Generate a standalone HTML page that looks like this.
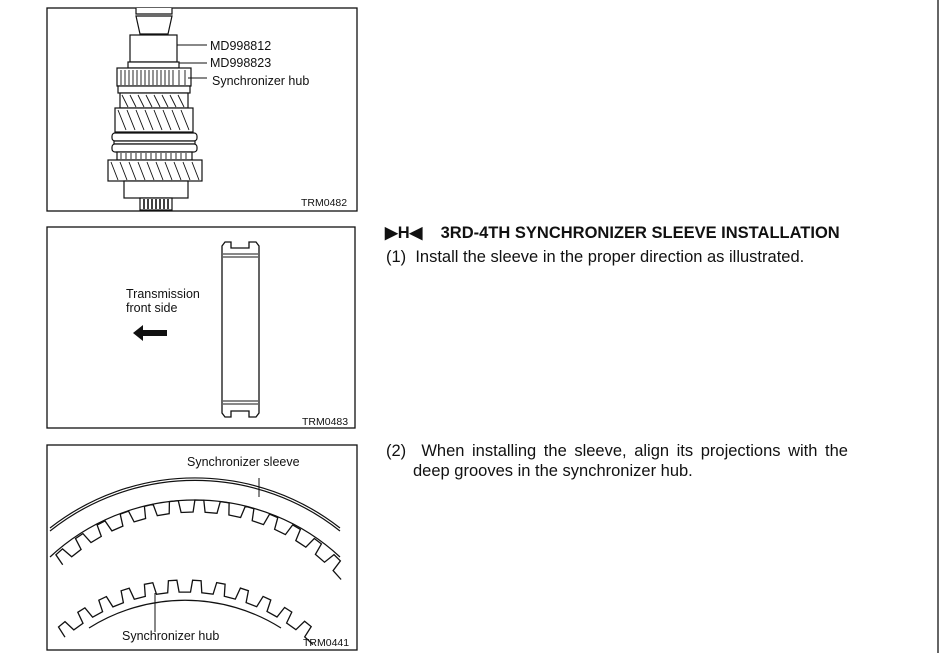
<!DOCTYPE html>
<html><head><meta charset="utf-8"><style>
html,body{margin:0;padding:0;background:#fff;}
body{width:939px;height:653px;position:relative;overflow:hidden;font-family:"Liberation Sans",Arial,sans-serif;}
.t{position:absolute;color:#111;white-space:nowrap;}
</style></head><body>
<svg width="939" height="653" style="position:absolute;left:0;top:0" xmlns="http://www.w3.org/2000/svg" font-family="Liberation Sans, Arial, sans-serif">
<rect x="937" y="0" width="2" height="653" fill="#666"/>
<g fill="none" stroke="#111" stroke-width="1.3">
<rect x="47" y="8" width="310" height="203"/>
<rect x="47" y="227" width="308" height="201"/>
<rect x="47" y="445" width="310" height="205"/>
</g>
<g stroke="#111" stroke-width="1.2" fill="#fff">
<path d="M136 8 L136 14 L172 14 L172 8"/>
<path d="M136 16 L172 16 L168 34 L140 34 Z"/>
<rect x="130" y="35" width="47" height="27"/>
<rect x="128" y="62" width="51" height="6"/>
<rect x="117" y="68" width="74" height="18"/>
<rect x="118" y="86" width="72" height="7"/>
<rect x="120" y="93" width="68" height="15"/>
<rect x="115" y="108" width="78" height="24"/>
<rect x="112" y="133" width="85" height="8" rx="3"/>
<rect x="114" y="141" width="81" height="3"/>
<rect x="112" y="144" width="85" height="8" rx="3"/>
<rect x="117" y="152" width="75" height="8"/>
<rect x="108" y="160" width="94" height="21"/>
<rect x="124" y="181" width="64" height="17"/>
<rect x="140" y="198" width="32" height="12"/>
</g>
<g stroke="#111" stroke-width="0.9">
<path d="M121 70v15M125 70v15M129 70v15M133 70v15M137 70v15M141 70v15M145 70v15M149 70v15M153 70v15M157 70v15M161 70v15M165 70v15M169 70v15M173 70v15M179 70v15M185 70v15"/>
<path d="M122 95l6 12M130 95l6 12M138 95l6 12M146 95l6 12M154 95l6 12M162 95l6 12M170 95l6 12M178 95l6 12"/>
<path d="M118 110l8 20M127 110l8 20M136 110l8 20M145 110l8 20M154 110l8 20M163 110l8 20M172 110l8 20M181 110l8 20"/>
<path d="M121 153v6M126 153v6M131 153v6M136 153v6M141 153v6M146 153v6M151 153v6M156 153v6M161 153v6M166 153v6M171 153v6M176 153v6M181 153v6M186 153v6"/>
<path d="M111 162l7 18M120 162l7 18M129 162l7 18M138 162l7 18M147 162l7 18M156 162l7 18M165 162l7 18M174 162l7 18M183 162l7 18M192 162l7 18"/>
<path d="M144 199v10M148 199v10M152 199v10M156 199v10M160 199v10M164 199v10M168 199v10" stroke-width="1.6"/>
<path d="M177 45H207M179 63H207M188 78H207" stroke-width="1.1"/>
</g>
<g font-size="12.5" fill="#111">
<text x="210" y="50">MD998812</text>
<text x="210" y="67">MD998823</text>
<text x="212" y="85">Synchronizer hub</text>
<text x="301" y="206" font-size="10.5">TRM0482</text>
<text x="126" y="298">Transmission</text>
<text x="126" y="312">front side</text>
<text x="302" y="425" font-size="10.5">TRM0483</text>
<text x="187" y="466">Synchronizer sleeve</text>
<text x="122" y="640">Synchronizer hub</text>
<text x="303" y="646" font-size="10.5">TRM0441</text>
</g>
<g fill="none" stroke="#111" stroke-width="1.3">
<path d="M222 246 L225 242 L231 242 L231 248 L249 248 L249 242 L256 242 L259 246 L259 413 L256 417 L249 417 L249 411 L231 411 L231 417 L225 417 L222 413 Z"/>
<path d="M223 254H258M223 257H258M223 401H258M223 404H258" stroke-width="0.9"/>
</g>
<path d="M133 333 L143 325 L143 330 L167 330 L167 336 L143 336 L143 341 Z" fill="#111"/>
<g fill="none" stroke="#111" stroke-width="1.2">
<path d="M50 528 A235 235 0 0 1 340 528"/>
<path d="M50 531 A233 233 0 0 1 340 531"/>
<path d="M50 557 A213 213 0 0 1 340 557"/>
<path d="M89 628 A180 180 0 0 1 281 628"/>
<path d="M155 593 V632" stroke-width="1"/>
<path d="M259 478 V497" stroke-width="1"/>
<path id="t1" stroke-width="1.3"/>
<path id="t2" stroke-width="1.3"/>
</g>
</svg>
<div class="t" style="left:385px;top:223px;font-size:16.5px;font-weight:bold;">&#x25B6;H&#x25C0;&nbsp;&nbsp;&nbsp;&nbsp;3RD-4TH SYNCHRONIZER SLEEVE INSTALLATION</div>
<div class="t" style="left:386px;top:248px;font-size:16.5px;">(1)&nbsp; Install the sleeve in the proper direction as illustrated.</div>
<div class="t" style="left:386px;top:441px;font-size:16.5px;line-height:20px;"><span style="word-spacing:3px">(2)&nbsp; When installing the sleeve, align its projections with the</span><br><span style="padding-left:27px">deep grooves in the synchronizer hub.</span></div>
<script>
function teeth(cx,cy,ro,ri,a0,a1,step){
 var d="",a=a0,first=true;
 function p(r,t){return (cx+r*Math.sin(t)).toFixed(1)+" "+(cy-r*Math.cos(t)).toFixed(1);}
 while(a<a1){
  var w=step/2;
  d+=(first?"M":"L")+p(ri,a)+" L"+p(ro,a+w*0.15)+" L"+p(ro,a+w*0.85)+" L"+p(ri,a+w)+" L"+p(ri,a+step);
  first=false;a+=step;
 }
 return d;
}
document.getElementById("t1").setAttribute("d",teeth(195,704,204,192,-0.76,0.76,0.125));
document.getElementById("t2").setAttribute("d",teeth(185,774,194,182,-0.72,0.70,0.125));
</script>
</body></html>
